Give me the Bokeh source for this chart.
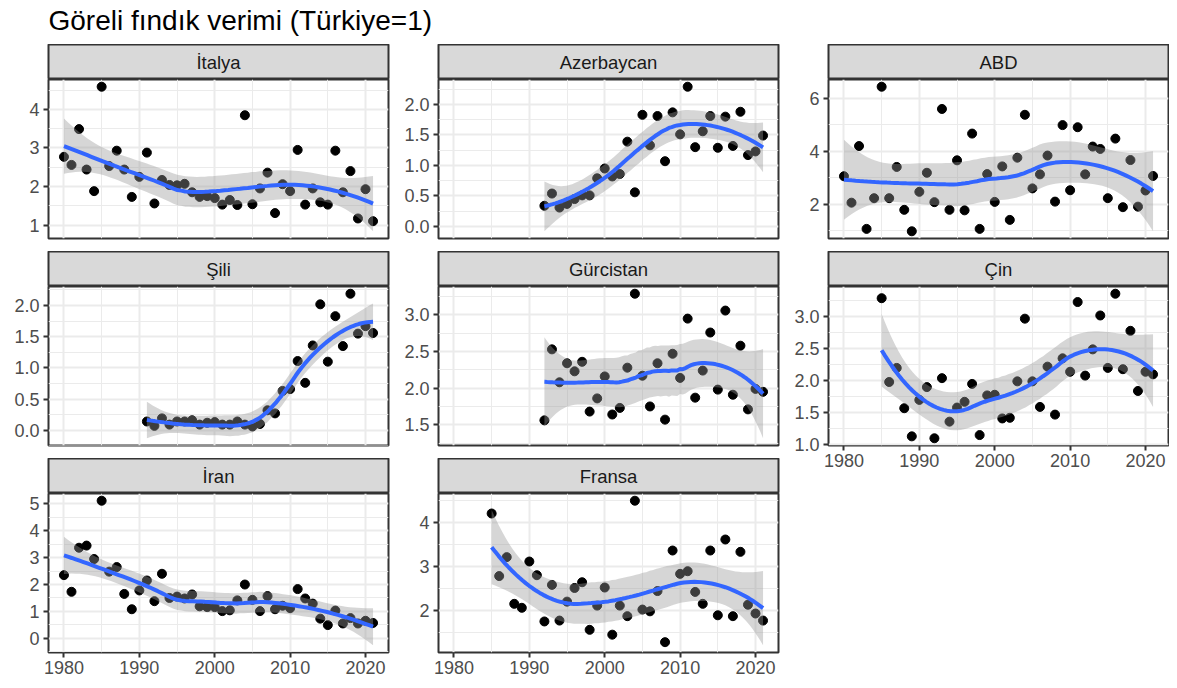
import numpy as np
from bokeh.plotting import figure
from bokeh.layouts import column, row
from bokeh.models import Range1d, FixedTicker, NumeralTickFormatter
from bokeh.embed import file_html
from bokeh.resources import INLINE
from bokeh.core.properties import value

TITLE = "Göreli fındık verimi (Türkiye=1)"

# ---- data ----
italya_yil = list(range(1980, 2022))
italya = [2.77, 2.56, 3.49, 2.44, 1.88, 4.59, 2.53, 2.93, 2.44, 1.73,
          2.25, 2.88, 1.56, 2.17, 2.04, 2.03, 2.07, 1.85, 1.73, 1.75,
          1.70, 1.53, 1.65, 1.52, 3.85, 1.54, 1.95, 2.36, 1.31, 2.06,
          1.88, 2.95, 1.53, 1.95, 1.59, 1.53, 2.93, 1.85, 2.40, 1.17, 1.93, 1.10]

azerbaycan_yil = list(range(1992, 2022))
azerbaycan = [0.34, 0.54, 0.31, 0.37, 0.45, 0.51, 0.51, 0.79, 0.95, 0.82,
              0.86, 1.39, 0.56, 1.83, 1.33, 1.81, 1.07, 1.87, 1.51, 2.29,
              1.30, 1.56, 1.81, 1.29, 1.80, 1.32, 1.88, 1.17, 1.23, 1.49]

abd_yil = list(range(1980, 2022))
abd = [3.06, 2.06, 4.20, 1.07, 2.23, 6.44, 2.23, 3.41, 1.79, 0.98,
       2.47, 3.19, 2.08, 5.60, 1.79, 3.66, 1.77, 4.67, 1.07, 3.14,
       2.09, 3.43, 1.41, 3.76, 5.38, 2.60, 3.13, 3.84, 2.10, 4.99,
       2.53, 4.91, 3.13, 4.18, 4.09, 2.23, 4.48, 1.89, 3.67, 1.91, 2.52, 3.07]

sili_yil = list(range(1991, 2022))
sili = [0.14, 0.07, 0.19, 0.09, 0.14, 0.14, 0.16, 0.09, 0.12, 0.13,
        0.09, 0.09, 0.14, 0.09, 0.06, 0.10, 0.32, 0.27, 0.63, 0.66,
        1.11, 0.76, 1.36, 2.02, 1.10, 1.83, 1.35, 2.19, 1.55, 1.67, 1.56]

gurcistan_yil = list(range(1992, 2022))
gurcistan = [1.56, 2.53, 2.08, 2.34, 2.23, 2.36, 1.68, 1.86, 2.16, 1.64,
             1.73, 2.28, 3.29, 2.17, 1.75, 2.34, 1.57, 2.47, 2.14, 2.95,
             1.87, 2.24, 2.76, 1.98, 3.06, 1.91, 2.58, 1.71, 1.99, 1.95]

cin_yil = list(range(1985, 2022))
cin = [3.29, 1.98, 2.20, 1.57, 1.13, 1.70, 1.90, 1.10, 2.04, 1.36,
       1.58, 1.67, 1.95, 1.15, 1.77, 1.78, 1.41, 1.42, 1.99, 2.97,
       1.99, 1.59, 2.22, 1.47, 2.35, 2.14, 3.23, 2.08, 2.49, 3.02,
       2.20, 3.36, 2.18, 2.78, 1.84, 2.14, 2.10]

iran_yil = list(range(1980, 2022))
iran = [2.35, 1.73, 3.37, 3.45, 2.95, 5.12, 2.48, 2.65, 1.65, 1.08,
        1.78, 2.15, 1.38, 2.40, 1.50, 1.55, 1.48, 1.63, 1.19, 1.16,
        1.16, 1.01, 1.04, 1.41, 2.00, 1.43, 1.01, 1.57, 1.08, 1.21,
        1.12, 1.83, 1.48, 1.29, 0.73, 0.49, 1.03, 0.55, 0.75, 0.55, 0.65, 0.57]

fransa_yil = list(range(1985, 2022))
fransa = [4.20, 2.78, 3.21, 2.15, 2.06, 3.11, 2.80, 1.75, 2.58, 1.77,
          2.20, 2.51, 2.64, 1.56, 2.11, 2.52, 1.45, 2.11, 1.87, 4.49,
          2.02, 1.98, 2.44, 1.28, 3.36, 2.83, 2.89, 2.42, 2.15, 3.36,
          1.89, 3.61, 1.87, 3.33, 2.13, 1.93, 1.77]

X_TICKS = [1980, 1990, 2000, 2010, 2020]
X_MINOR = [1975, 1985, 1995, 2005, 2015, 2025]

Y_TICKS = {
    "İtalya": [1, 2, 3, 4],
    "Azerbaycan": [0.0, 0.5, 1.0, 1.5, 2.0],
    "ABD": [2, 4, 6],
    "Şili": [0.0, 0.5, 1.0, 1.5, 2.0],
    "Gürcistan": [1.5, 2.0, 2.5, 3.0],
    "Çin": [1.0, 1.5, 2.0, 2.5, 3.0],
    "İran": [0, 1, 2, 3, 4, 5],
    "Fransa": [2, 3, 4],
}
Y_FMT = {"İtalya": "0", "Azerbaycan": "0.0", "ABD": "0", "Şili": "0.0",
         "Gürcistan": "0.0", "Çin": "0.0", "İran": "0", "Fransa": "0"}

PANELS = [
    ("İtalya", italya_yil, italya),
    ("Azerbaycan", azerbaycan_yil, azerbaycan),
    ("ABD", abd_yil, abd),
    ("Şili", sili_yil, sili),
    ("Gürcistan", gurcistan_yil, gurcistan),
    ("Çin", cin_yil, cin),
    ("İran", iran_yil, iran),
    ("Fransa", fransa_yil, fransa),
]

FONT = "Liberation Sans"


# ---- loess smoother (as geom_smooth: span 0.75, degree 2, 95% CI) ----
def t975(df):
    z = 1.959963985
    g1 = (z**3 + z) / 4
    g2 = (5 * z**5 + 16 * z**3 + 3 * z) / 96
    g3 = (3 * z**7 + 19 * z**5 + 17 * z**3 - 15 * z) / 384
    g4 = (79 * z**9 + 776 * z**7 + 1482 * z**5 - 1920 * z**3 - 945 * z) / 92160
    return z + g1 / df + g2 / df**2 + g3 / df**3 + g4 / df**4


def loess_fit(x, y, span=0.75, npts=80):
    x = np.asarray(x, float)
    y = np.asarray(y, float)
    n = len(x)
    q = int(np.floor(n * span))

    def lrow(x0):
        d = np.abs(x - x0)
        h = np.sort(d)[q - 1]
        u = np.minimum(d / h, 1.0)
        w = (1 - u**3) ** 3
        X = np.column_stack([np.ones(n), x - x0, (x - x0) ** 2])
        XtW = X.T * w
        return np.linalg.solve(XtW @ X, XtW)[0]

    L = np.array([lrow(v) for v in x])
    R = np.eye(n) - L
    M = R.T @ R
    d1 = np.trace(M)
    d2 = np.trace(M @ M)
    res = R @ y
    sigma = np.sqrt(res @ res / d1)
    df = d1**2 / d2
    xs = np.linspace(x.min(), x.max(), npts)
    Ls = np.array([lrow(v) for v in xs])
    fit = Ls @ y
    se = sigma * np.sqrt((Ls**2).sum(axis=1))
    t = t975(df)
    return xs, fit, fit - t * se, fit + t * se


all_years = [yr for _, yrs, _ in PANELS for yr in yrs]
xlo, xhi = min(all_years), max(all_years)
xpad = 0.05 * (xhi - xlo)
X_RANGE = (xlo - xpad, xhi + xpad)

FRAME_W, FRAME_H, STRIP_H = 340, 159, 35
COL_BORDERS = [(48, 10), (40, 10), (40, 1)]


def minor_of(ticks):
    step = ticks[1] - ticks[0]
    return [ticks[0] - step / 2] + [t + step / 2 for t in ticks]


def make_strip(name, left, right):
    s = figure(frame_width=FRAME_W, frame_height=STRIP_H,
               min_border_left=left, min_border_right=right,
               min_border_top=0, min_border_bottom=0,
               x_range=Range1d(0, 1), y_range=Range1d(0, 1),
               x_axis_location=None, y_axis_location=None,
               toolbar_location=None, output_backend="svg",
               background_fill_color="#D9D9D9", border_fill_color="white",
               outline_line_color="#333333", outline_line_width=2)
    s.xgrid.visible = False
    s.ygrid.visible = False
    s.text(x=[0.5], y=[0.5], text=[name], text_align="center",
           text_baseline="middle", text_font=value(FONT),
           text_font_size="18.5px", text_color="#1A1A1A")
    return s


def make_panel(name, yrs, vals, left, right, show_x, bottom):
    xs, fit, lo, hi = loess_fit(yrs, vals)
    ymin = min(min(vals), lo.min())
    ymax = max(max(vals), hi.max())
    ypad = 0.05 * (ymax - ymin)
    p = figure(frame_width=FRAME_W, frame_height=FRAME_H,
               min_border_left=left, min_border_right=right,
               min_border_top=0, min_border_bottom=bottom,
               x_range=Range1d(*X_RANGE),
               y_range=Range1d(ymin - ypad, ymax + ypad),
               toolbar_location=None, output_backend="svg",
               background_fill_color="white", border_fill_color="white",
               outline_line_color="#333333", outline_line_width=2)
    yt = Y_TICKS[name]
    xticker = FixedTicker(ticks=X_TICKS, minor_ticks=X_MINOR)
    yticker = FixedTicker(ticks=yt, minor_ticks=minor_of(yt))
    p.xaxis.ticker = xticker
    p.yaxis.ticker = yticker
    p.xgrid.ticker = xticker
    p.ygrid.ticker = yticker
    p.yaxis.formatter = NumeralTickFormatter(format=Y_FMT[name])
    for ax in (p.xaxis, p.yaxis):
        ax.axis_line_color = None
        ax.major_tick_line_color = "#333333"
        ax.major_tick_line_width = 2
        ax.major_tick_out = 5
        ax.major_tick_in = 0
        ax.minor_tick_line_color = None
        ax.major_label_text_font = FONT
        ax.major_label_text_font_size = "18px"
        ax.major_label_text_color = "#4D4D4D"
    p.xaxis.major_label_standoff = 3
    p.yaxis.major_label_standoff = 4
    p.xaxis.visible = show_x
    for g in (p.xgrid, p.ygrid):
        g.grid_line_color = "#EBEBEB"
        g.grid_line_width = 2
        g.minor_grid_line_color = "#EBEBEB"
        g.minor_grid_line_width = 1

    p.scatter(yrs, vals, size=9, color="black")
    p.varea(x=xs, y1=lo, y2=hi, fill_color="#999999", fill_alpha=0.4)
    p.line(xs, fit, line_color="#3366FF", line_width=4)
    return p


panel_map = {n: (y, v) for n, y, v in PANELS}
layout_cols = [
    ["İtalya", "Şili", "İran"],
    ["Azerbaycan", "Gürcistan", "Fransa"],
    ["ABD", "Çin"],
]

cols = []
for ci, names in enumerate(layout_cols):
    left, right = COL_BORDERS[ci]
    items = []
    for ri, name in enumerate(names):
        yrs, vals = panel_map[name]
        last = ri == len(names) - 1
        items.append(make_strip(name, left, right))
        items.append(make_panel(name, yrs, vals, left, right,
                                show_x=last, bottom=(0 if last else 13)))
    cols.append(column(*items, spacing=0))

title_fig = figure(width=1169, height=44, min_border=0,
                   x_range=Range1d(0, 1169), y_range=Range1d(0, 44),
                   x_axis_location=None, y_axis_location=None,
                   toolbar_location=None, output_backend="svg",
                   outline_line_color=None, border_fill_color="white",
                   background_fill_color="white")
title_fig.xgrid.visible = False
title_fig.ygrid.visible = False
title_fig.text(x=[48], y=[24.5], text=[TITLE], text_align="left",
               text_baseline="middle", text_font=value(FONT),
               text_font_size="28px", text_color="black")

page = column(title_fig, row(*cols, spacing=0), spacing=0)

open("out.html", "w").write(file_html(page, INLINE, title="Göreli fındık verimi"))
